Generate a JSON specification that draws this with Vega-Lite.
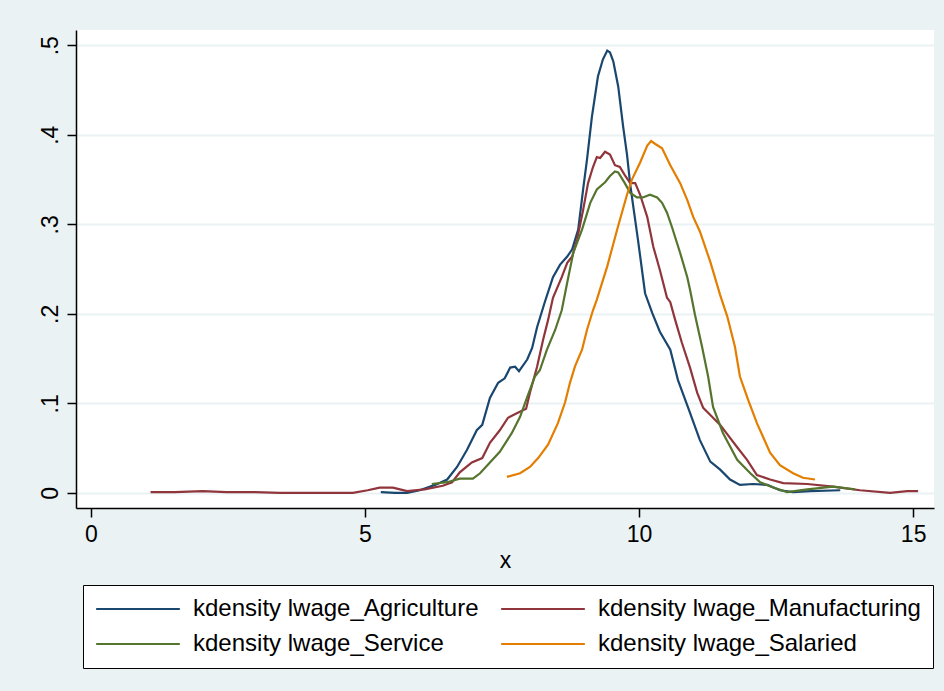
{
  "$schema": "https://vega.github.io/schema/vega-lite/v6.json",
  "width": 858,
  "height": 478,
  "autosize": {"type": "none"},
  "padding": {"left": 76, "top": 30, "right": 10, "bottom": 183},
  "background": "#EAF2F3",
  "config": {
    "font": "Liberation Sans",
    "view": {"fill": "white", "stroke": null}
  },
  "data": {
    "values": [
      {"series": "kdensity lwage_Agriculture", "x": 5.29, "y": 0.001},
      {"series": "kdensity lwage_Agriculture", "x": 5.55, "y": 0.000},
      {"series": "kdensity lwage_Agriculture", "x": 5.77, "y": 0.000},
      {"series": "kdensity lwage_Agriculture", "x": 6.00, "y": 0.003},
      {"series": "kdensity lwage_Agriculture", "x": 6.28, "y": 0.009},
      {"series": "kdensity lwage_Agriculture", "x": 6.50, "y": 0.015},
      {"series": "kdensity lwage_Agriculture", "x": 6.68, "y": 0.029},
      {"series": "kdensity lwage_Agriculture", "x": 6.86, "y": 0.048},
      {"series": "kdensity lwage_Agriculture", "x": 7.04, "y": 0.070},
      {"series": "kdensity lwage_Agriculture", "x": 7.14, "y": 0.076},
      {"series": "kdensity lwage_Agriculture", "x": 7.28, "y": 0.106},
      {"series": "kdensity lwage_Agriculture", "x": 7.43, "y": 0.123},
      {"series": "kdensity lwage_Agriculture", "x": 7.55, "y": 0.128},
      {"series": "kdensity lwage_Agriculture", "x": 7.65, "y": 0.140},
      {"series": "kdensity lwage_Agriculture", "x": 7.74, "y": 0.141},
      {"series": "kdensity lwage_Agriculture", "x": 7.81, "y": 0.136},
      {"series": "kdensity lwage_Agriculture", "x": 7.96, "y": 0.149},
      {"series": "kdensity lwage_Agriculture", "x": 8.05, "y": 0.162},
      {"series": "kdensity lwage_Agriculture", "x": 8.14, "y": 0.185},
      {"series": "kdensity lwage_Agriculture", "x": 8.28, "y": 0.213},
      {"series": "kdensity lwage_Agriculture", "x": 8.43, "y": 0.241},
      {"series": "kdensity lwage_Agriculture", "x": 8.56, "y": 0.255},
      {"series": "kdensity lwage_Agriculture", "x": 8.69, "y": 0.264},
      {"series": "kdensity lwage_Agriculture", "x": 8.78, "y": 0.272},
      {"series": "kdensity lwage_Agriculture", "x": 8.89, "y": 0.294},
      {"series": "kdensity lwage_Agriculture", "x": 8.98, "y": 0.339},
      {"series": "kdensity lwage_Agriculture", "x": 9.05, "y": 0.372},
      {"series": "kdensity lwage_Agriculture", "x": 9.14, "y": 0.420},
      {"series": "kdensity lwage_Agriculture", "x": 9.25, "y": 0.465},
      {"series": "kdensity lwage_Agriculture", "x": 9.34, "y": 0.484},
      {"series": "kdensity lwage_Agriculture", "x": 9.42, "y": 0.494},
      {"series": "kdensity lwage_Agriculture", "x": 9.47, "y": 0.492},
      {"series": "kdensity lwage_Agriculture", "x": 9.53, "y": 0.482},
      {"series": "kdensity lwage_Agriculture", "x": 9.62, "y": 0.454},
      {"series": "kdensity lwage_Agriculture", "x": 9.71, "y": 0.409},
      {"series": "kdensity lwage_Agriculture", "x": 9.78, "y": 0.378},
      {"series": "kdensity lwage_Agriculture", "x": 9.84, "y": 0.344},
      {"series": "kdensity lwage_Agriculture", "x": 9.89, "y": 0.322},
      {"series": "kdensity lwage_Agriculture", "x": 9.98, "y": 0.283},
      {"series": "kdensity lwage_Agriculture", "x": 10.11, "y": 0.223},
      {"series": "kdensity lwage_Agriculture", "x": 10.24, "y": 0.201},
      {"series": "kdensity lwage_Agriculture", "x": 10.38, "y": 0.180},
      {"series": "kdensity lwage_Agriculture", "x": 10.57, "y": 0.160},
      {"series": "kdensity lwage_Agriculture", "x": 10.71, "y": 0.126},
      {"series": "kdensity lwage_Agriculture", "x": 10.89, "y": 0.096},
      {"series": "kdensity lwage_Agriculture", "x": 11.11, "y": 0.059},
      {"series": "kdensity lwage_Agriculture", "x": 11.30, "y": 0.035},
      {"series": "kdensity lwage_Agriculture", "x": 11.48, "y": 0.026},
      {"series": "kdensity lwage_Agriculture", "x": 11.66, "y": 0.015},
      {"series": "kdensity lwage_Agriculture", "x": 11.84, "y": 0.009},
      {"series": "kdensity lwage_Agriculture", "x": 12.08, "y": 0.010},
      {"series": "kdensity lwage_Agriculture", "x": 12.34, "y": 0.009},
      {"series": "kdensity lwage_Agriculture", "x": 12.57, "y": 0.003},
      {"series": "kdensity lwage_Agriculture", "x": 12.81, "y": 0.001},
      {"series": "kdensity lwage_Agriculture", "x": 13.12, "y": 0.002},
      {"series": "kdensity lwage_Agriculture", "x": 13.67, "y": 0.003},

      {"series": "kdensity lwage_Manufacturing", "x": 1.09, "y": 0.001},
      {"series": "kdensity lwage_Manufacturing", "x": 1.53, "y": 0.001},
      {"series": "kdensity lwage_Manufacturing", "x": 2.04, "y": 0.002},
      {"series": "kdensity lwage_Manufacturing", "x": 2.48, "y": 0.001},
      {"series": "kdensity lwage_Manufacturing", "x": 2.99, "y": 0.001},
      {"series": "kdensity lwage_Manufacturing", "x": 3.45, "y": 0.000},
      {"series": "kdensity lwage_Manufacturing", "x": 4.18, "y": 0.000},
      {"series": "kdensity lwage_Manufacturing", "x": 4.78, "y": 0.000},
      {"series": "kdensity lwage_Manufacturing", "x": 5.05, "y": 0.003},
      {"series": "kdensity lwage_Manufacturing", "x": 5.27, "y": 0.006},
      {"series": "kdensity lwage_Manufacturing", "x": 5.51, "y": 0.006},
      {"series": "kdensity lwage_Manufacturing", "x": 5.77, "y": 0.002},
      {"series": "kdensity lwage_Manufacturing", "x": 6.09, "y": 0.004},
      {"series": "kdensity lwage_Manufacturing", "x": 6.42, "y": 0.008},
      {"series": "kdensity lwage_Manufacturing", "x": 6.59, "y": 0.012},
      {"series": "kdensity lwage_Manufacturing", "x": 6.73, "y": 0.023},
      {"series": "kdensity lwage_Manufacturing", "x": 6.95, "y": 0.034},
      {"series": "kdensity lwage_Manufacturing", "x": 7.14, "y": 0.039},
      {"series": "kdensity lwage_Manufacturing", "x": 7.28, "y": 0.056},
      {"series": "kdensity lwage_Manufacturing", "x": 7.46, "y": 0.070},
      {"series": "kdensity lwage_Manufacturing", "x": 7.61, "y": 0.084},
      {"series": "kdensity lwage_Manufacturing", "x": 7.77, "y": 0.089},
      {"series": "kdensity lwage_Manufacturing", "x": 7.94, "y": 0.094},
      {"series": "kdensity lwage_Manufacturing", "x": 8.01, "y": 0.112},
      {"series": "kdensity lwage_Manufacturing", "x": 8.14, "y": 0.141},
      {"series": "kdensity lwage_Manufacturing", "x": 8.25, "y": 0.171},
      {"series": "kdensity lwage_Manufacturing", "x": 8.34, "y": 0.193},
      {"series": "kdensity lwage_Manufacturing", "x": 8.43, "y": 0.218},
      {"series": "kdensity lwage_Manufacturing", "x": 8.59, "y": 0.241},
      {"series": "kdensity lwage_Manufacturing", "x": 8.69, "y": 0.257},
      {"series": "kdensity lwage_Manufacturing", "x": 8.78, "y": 0.264},
      {"series": "kdensity lwage_Manufacturing", "x": 8.87, "y": 0.283},
      {"series": "kdensity lwage_Manufacturing", "x": 8.98, "y": 0.316},
      {"series": "kdensity lwage_Manufacturing", "x": 9.07, "y": 0.346},
      {"series": "kdensity lwage_Manufacturing", "x": 9.16, "y": 0.364},
      {"series": "kdensity lwage_Manufacturing", "x": 9.23, "y": 0.375},
      {"series": "kdensity lwage_Manufacturing", "x": 9.29, "y": 0.374},
      {"series": "kdensity lwage_Manufacturing", "x": 9.38, "y": 0.381},
      {"series": "kdensity lwage_Manufacturing", "x": 9.47, "y": 0.378},
      {"series": "kdensity lwage_Manufacturing", "x": 9.56, "y": 0.366},
      {"series": "kdensity lwage_Manufacturing", "x": 9.65, "y": 0.364},
      {"series": "kdensity lwage_Manufacturing", "x": 9.74, "y": 0.355},
      {"series": "kdensity lwage_Manufacturing", "x": 9.84, "y": 0.346},
      {"series": "kdensity lwage_Manufacturing", "x": 9.93, "y": 0.346},
      {"series": "kdensity lwage_Manufacturing", "x": 10.02, "y": 0.333},
      {"series": "kdensity lwage_Manufacturing", "x": 10.15, "y": 0.308},
      {"series": "kdensity lwage_Manufacturing", "x": 10.26, "y": 0.275},
      {"series": "kdensity lwage_Manufacturing", "x": 10.38, "y": 0.249},
      {"series": "kdensity lwage_Manufacturing", "x": 10.51, "y": 0.218},
      {"series": "kdensity lwage_Manufacturing", "x": 10.57, "y": 0.213},
      {"series": "kdensity lwage_Manufacturing", "x": 10.66, "y": 0.193},
      {"series": "kdensity lwage_Manufacturing", "x": 10.78, "y": 0.168},
      {"series": "kdensity lwage_Manufacturing", "x": 10.93, "y": 0.140},
      {"series": "kdensity lwage_Manufacturing", "x": 11.06, "y": 0.112},
      {"series": "kdensity lwage_Manufacturing", "x": 11.17, "y": 0.095},
      {"series": "kdensity lwage_Manufacturing", "x": 11.30, "y": 0.087},
      {"series": "kdensity lwage_Manufacturing", "x": 11.48, "y": 0.076},
      {"series": "kdensity lwage_Manufacturing", "x": 11.79, "y": 0.051},
      {"series": "kdensity lwage_Manufacturing", "x": 11.97, "y": 0.037},
      {"series": "kdensity lwage_Manufacturing", "x": 12.15, "y": 0.020},
      {"series": "kdensity lwage_Manufacturing", "x": 12.39, "y": 0.015},
      {"series": "kdensity lwage_Manufacturing", "x": 12.63, "y": 0.011},
      {"series": "kdensity lwage_Manufacturing", "x": 13.07, "y": 0.010},
      {"series": "kdensity lwage_Manufacturing", "x": 13.54, "y": 0.007},
      {"series": "kdensity lwage_Manufacturing", "x": 14.03, "y": 0.003},
      {"series": "kdensity lwage_Manufacturing", "x": 14.58, "y": 0.000},
      {"series": "kdensity lwage_Manufacturing", "x": 14.89, "y": 0.002},
      {"series": "kdensity lwage_Manufacturing", "x": 15.09, "y": 0.002},

      {"series": "kdensity lwage_Service", "x": 6.22, "y": 0.010},
      {"series": "kdensity lwage_Service", "x": 6.50, "y": 0.012},
      {"series": "kdensity lwage_Service", "x": 6.73, "y": 0.016},
      {"series": "kdensity lwage_Service", "x": 6.97, "y": 0.016},
      {"series": "kdensity lwage_Service", "x": 7.10, "y": 0.022},
      {"series": "kdensity lwage_Service", "x": 7.28, "y": 0.034},
      {"series": "kdensity lwage_Service", "x": 7.46, "y": 0.046},
      {"series": "kdensity lwage_Service", "x": 7.68, "y": 0.067},
      {"series": "kdensity lwage_Service", "x": 7.83, "y": 0.085},
      {"series": "kdensity lwage_Service", "x": 7.96, "y": 0.107},
      {"series": "kdensity lwage_Service", "x": 8.10, "y": 0.130},
      {"series": "kdensity lwage_Service", "x": 8.19, "y": 0.137},
      {"series": "kdensity lwage_Service", "x": 8.32, "y": 0.160},
      {"series": "kdensity lwage_Service", "x": 8.47, "y": 0.182},
      {"series": "kdensity lwage_Service", "x": 8.59, "y": 0.204},
      {"series": "kdensity lwage_Service", "x": 8.69, "y": 0.235},
      {"series": "kdensity lwage_Service", "x": 8.80, "y": 0.268},
      {"series": "kdensity lwage_Service", "x": 8.96, "y": 0.294},
      {"series": "kdensity lwage_Service", "x": 9.11, "y": 0.324},
      {"series": "kdensity lwage_Service", "x": 9.23, "y": 0.339},
      {"series": "kdensity lwage_Service", "x": 9.38, "y": 0.347},
      {"series": "kdensity lwage_Service", "x": 9.47, "y": 0.354},
      {"series": "kdensity lwage_Service", "x": 9.56, "y": 0.359},
      {"series": "kdensity lwage_Service", "x": 9.62, "y": 0.358},
      {"series": "kdensity lwage_Service", "x": 9.74, "y": 0.346},
      {"series": "kdensity lwage_Service", "x": 9.84, "y": 0.335},
      {"series": "kdensity lwage_Service", "x": 9.96, "y": 0.330},
      {"series": "kdensity lwage_Service", "x": 10.07, "y": 0.330},
      {"series": "kdensity lwage_Service", "x": 10.20, "y": 0.333},
      {"series": "kdensity lwage_Service", "x": 10.33, "y": 0.330},
      {"series": "kdensity lwage_Service", "x": 10.42, "y": 0.324},
      {"series": "kdensity lwage_Service", "x": 10.51, "y": 0.313},
      {"series": "kdensity lwage_Service", "x": 10.60, "y": 0.297},
      {"series": "kdensity lwage_Service", "x": 10.75, "y": 0.268},
      {"series": "kdensity lwage_Service", "x": 10.88, "y": 0.241},
      {"series": "kdensity lwage_Service", "x": 10.93, "y": 0.227},
      {"series": "kdensity lwage_Service", "x": 11.02, "y": 0.199},
      {"series": "kdensity lwage_Service", "x": 11.15, "y": 0.163},
      {"series": "kdensity lwage_Service", "x": 11.26, "y": 0.130},
      {"series": "kdensity lwage_Service", "x": 11.35, "y": 0.096},
      {"series": "kdensity lwage_Service", "x": 11.53, "y": 0.067},
      {"series": "kdensity lwage_Service", "x": 11.79, "y": 0.037},
      {"series": "kdensity lwage_Service", "x": 12.03, "y": 0.022},
      {"series": "kdensity lwage_Service", "x": 12.21, "y": 0.012},
      {"series": "kdensity lwage_Service", "x": 12.45, "y": 0.006},
      {"series": "kdensity lwage_Service", "x": 12.70, "y": 0.001},
      {"series": "kdensity lwage_Service", "x": 13.07, "y": 0.004},
      {"series": "kdensity lwage_Service", "x": 13.54, "y": 0.007},
      {"series": "kdensity lwage_Service", "x": 13.94, "y": 0.004},

      {"series": "kdensity lwage_Salaried", "x": 7.59, "y": 0.018},
      {"series": "kdensity lwage_Salaried", "x": 7.83, "y": 0.022},
      {"series": "kdensity lwage_Salaried", "x": 8.01, "y": 0.029},
      {"series": "kdensity lwage_Salaried", "x": 8.16, "y": 0.039},
      {"series": "kdensity lwage_Salaried", "x": 8.34, "y": 0.054},
      {"series": "kdensity lwage_Salaried", "x": 8.52, "y": 0.078},
      {"series": "kdensity lwage_Salaried", "x": 8.65, "y": 0.101},
      {"series": "kdensity lwage_Salaried", "x": 8.74, "y": 0.123},
      {"series": "kdensity lwage_Salaried", "x": 8.83, "y": 0.141},
      {"series": "kdensity lwage_Salaried", "x": 8.96, "y": 0.160},
      {"series": "kdensity lwage_Salaried", "x": 9.05, "y": 0.182},
      {"series": "kdensity lwage_Salaried", "x": 9.16, "y": 0.204},
      {"series": "kdensity lwage_Salaried", "x": 9.23, "y": 0.216},
      {"series": "kdensity lwage_Salaried", "x": 9.42, "y": 0.253},
      {"series": "kdensity lwage_Salaried", "x": 9.60, "y": 0.294},
      {"series": "kdensity lwage_Salaried", "x": 9.78, "y": 0.333},
      {"series": "kdensity lwage_Salaried", "x": 9.87, "y": 0.350},
      {"series": "kdensity lwage_Salaried", "x": 10.02, "y": 0.369},
      {"series": "kdensity lwage_Salaried", "x": 10.15, "y": 0.388},
      {"series": "kdensity lwage_Salaried", "x": 10.22, "y": 0.393},
      {"series": "kdensity lwage_Salaried", "x": 10.29, "y": 0.390},
      {"series": "kdensity lwage_Salaried", "x": 10.42, "y": 0.385},
      {"series": "kdensity lwage_Salaried", "x": 10.57, "y": 0.366},
      {"series": "kdensity lwage_Salaried", "x": 10.75, "y": 0.346},
      {"series": "kdensity lwage_Salaried", "x": 10.88, "y": 0.327},
      {"series": "kdensity lwage_Salaried", "x": 10.99, "y": 0.308},
      {"series": "kdensity lwage_Salaried", "x": 11.11, "y": 0.292},
      {"series": "kdensity lwage_Salaried", "x": 11.30, "y": 0.258},
      {"series": "kdensity lwage_Salaried", "x": 11.48, "y": 0.221},
      {"series": "kdensity lwage_Salaried", "x": 11.61, "y": 0.197},
      {"series": "kdensity lwage_Salaried", "x": 11.75, "y": 0.163},
      {"series": "kdensity lwage_Salaried", "x": 11.84, "y": 0.130},
      {"series": "kdensity lwage_Salaried", "x": 11.99, "y": 0.104},
      {"series": "kdensity lwage_Salaried", "x": 12.15, "y": 0.078},
      {"series": "kdensity lwage_Salaried", "x": 12.39, "y": 0.045},
      {"series": "kdensity lwage_Salaried", "x": 12.57, "y": 0.031},
      {"series": "kdensity lwage_Salaried", "x": 12.81, "y": 0.022},
      {"series": "kdensity lwage_Salaried", "x": 12.99, "y": 0.017},
      {"series": "kdensity lwage_Salaried", "x": 13.21, "y": 0.015}
    ]
  },
  "mark": {"type": "line", "strokeWidth": 2.2, "clip": true},
  "encoding": {
    "x": {
      "field": "x",
      "type": "quantitative",
      "scale": {"domain": [-0.27, 15.38], "nice": false, "zero": false},
      "axis": {
        "title": "x",
        "titleFontSize": 23,
        "titleFontWeight": "normal",
        "titleColor": "black",
        "titlePadding": 3,
        "values": [0, 5, 10, 15],
        "grid": false,
        "domainColor": "black",
        "domainWidth": 1.5,
        "tickColor": "black",
        "tickWidth": 1.5,
        "tickSize": 9,
        "labelFontSize": 23,
        "labelColor": "black",
        "labelPadding": 6
      }
    },
    "y": {
      "field": "y",
      "type": "quantitative",
      "scale": {"domain": [-0.0168, 0.517], "nice": false, "zero": false},
      "axis": {
        "title": null,
        "values": [0, 0.1, 0.2, 0.3, 0.4, 0.5],
        "labelExpr": "datum.value == 0 ? '0' : replace(format(datum.value, '.1f'), '0.', '.')",
        "labelAngle": -90,
        "labelAlign": "center",
        "labelBaseline": "alphabetic",
        "labelFontSize": 23,
        "labelColor": "black",
        "labelPadding": 10,
        "grid": true,
        "gridColor": "#EAF2F3",
        "gridWidth": 2,
        "domainColor": "black",
        "domainWidth": 1.5,
        "tickColor": "black",
        "tickWidth": 1.5,
        "tickSize": 9
      }
    },
    "color": {
      "field": "series",
      "type": "nominal",
      "scale": {
        "domain": ["kdensity lwage_Agriculture", "kdensity lwage_Manufacturing", "kdensity lwage_Service", "kdensity lwage_Salaried"],
        "range": ["#1A476F", "#90353B", "#55752F", "#E37E00"]
      },
      "legend": {
        "title": null,
        "orient": "none",
        "legendX": 7,
        "legendY": 555,
        "direction": "horizontal",
        "columns": 2,
        "columnPadding": 21,
        "rowPadding": 11,
        "padding": 12,
        "clipHeight": 24,
        "fillColor": "white",
        "strokeColor": "black",
        "symbolType": "stroke",
        "symbolSize": 7000,
        "symbolStrokeWidth": 2,
        "labelFontSize": 24,
        "labelColor": "black",
        "labelOffset": 12,
        "labelLimit": 400
      }
    }
  }
}
